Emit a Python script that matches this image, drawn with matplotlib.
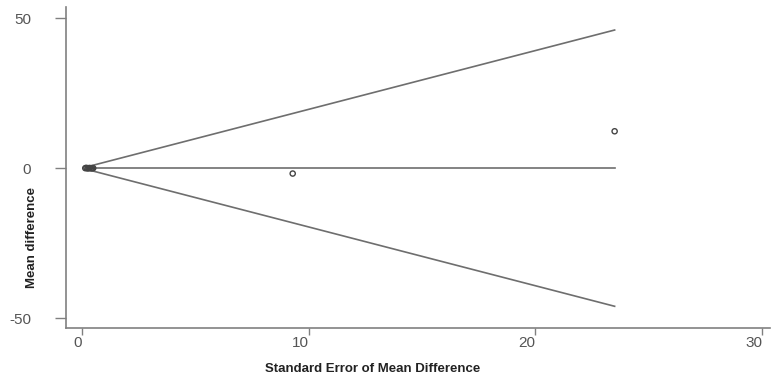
import matplotlib.pyplot as plt
import numpy as np

# study points: standard error vs mean difference
se = [0.15, 0.2, 0.25, 0.3, 0.35, 0.4, 0.45, 0.5, 9.3, 23.5]
md = [0.0, 0.1, -0.1, 0.0, 0.05, -0.05, 0.0, 0.0, -1.8, 12.3]

# funnel limits (pooled estimate 0, +/- 1.96 SE)
se_min = 0.2
se_max = 23.5
pooled = 0.0
z = 1.96

xticks = [0, 10, 20, 30]
yticks = [-50, 0, 50]

plt.rcParams['font.family'] = ['Liberation Sans', 'DejaVu Sans']
plt.rcParams['axes.unicode_minus'] = False

fig = plt.figure(figsize=(7.71, 3.74), dpi=100)
ax = fig.add_axes([0.0856, 0.123, 0.913, 0.858])

line_col = '#6e6e6e'
ax.plot([se_min, se_max], [pooled + z * se_min, pooled + z * se_max], color=line_col, lw=1.2)
ax.plot([se_min, se_max], [pooled - z * se_min, pooled - z * se_max], color=line_col, lw=1.2)
ax.plot([se_min, se_max], [pooled, pooled], color=line_col, lw=1.2)

ax.scatter(se, md, s=14, facecolors='none', edgecolors='#444444', linewidths=1.0, zorder=3)

ax.set_xlim(-0.7, 30.35)
ax.set_ylim(-53.3, 53.7)
ax.set_xticks(xticks)
ax.set_yticks(yticks)

for s in ['top', 'right']:
    ax.spines[s].set_visible(False)
for s in ['left', 'bottom']:
    ax.spines[s].set_color('#808080')
    ax.spines[s].set_linewidth(1.2)

ax.tick_params(axis='y', length=8, width=1.0, color='#808080', labelsize=11, labelcolor='#555555', pad=17)
ax.tick_params(axis='x', length=5, width=1.0, color='#808080', labelsize=11, labelcolor='#555555', pad=1)
for lab in ax.get_xticklabels():
    lab.set_horizontalalignment('right')

ax.set_xlabel('Standard Error of Mean Difference', fontsize=9.5, fontweight='bold', color='#222222')
ax.set_ylabel('Mean difference', fontsize=9.5, fontweight='bold', color='#222222')
ax.xaxis.set_label_coords(0.436, -0.109)
ax.yaxis.set_label_coords(-0.040, 0.283)

fig.savefig('out.png', dpi=100)
